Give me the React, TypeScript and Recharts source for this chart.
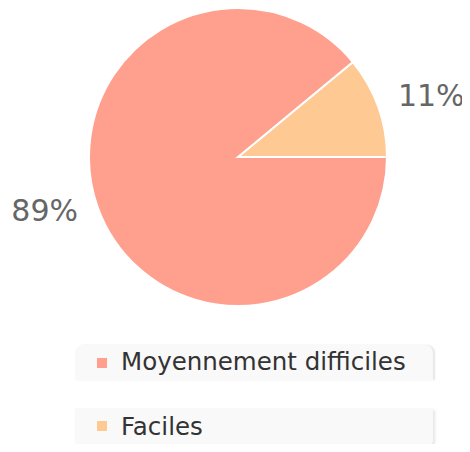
import React from 'react';
import { PieChart, Pie, Cell, Legend } from 'recharts';

const sliceNames = ['Faciles', 'Moyennement difficiles'];
const sliceValues = [11, 89];
const sliceColors = ['#FFC994', '#FFA08E'];
const legendOrder = ['Moyennement difficiles', 'Faciles'];

const data = sliceNames.map((name, i) => ({ name, value: sliceValues[i] }));

const RADIAN = Math.PI / 180;

const renderLabel = ({ cx, cy, midAngle, outerRadius, percent }: any) => {
  const r = outerRadius + 21;
  const x = cx + r * Math.cos(-midAngle * RADIAN);
  const y = cy + r * Math.sin(-midAngle * RADIAN);
  const right = x > cx;
  return (
    <text
      x={x}
      y={y - 4}
      textAnchor={right ? 'start' : 'end'}
      dominantBaseline="central"
      fill="#666"
      fontSize={30}
      fontFamily="DejaVu Sans"
    >
      {`${Math.round(percent * 100)}%`}
    </text>
  );
};

const CustomLegend = () => {
  return (
    <div style={{ position: 'relative', width: 358, height: 103, fontFamily: 'DejaVu Sans' }}>
      {legendOrder.map((name, index) => {
        const color = sliceColors[sliceNames.indexOf(name)];
        const first = index === 0;
        return (
          <div
            key={name}
            style={{
              position: 'absolute',
              left: 0,
              top: first ? 0 : 63,
              width: 358,
              height: first ? 35 : 40,
              background: '#f9f9f9',
              borderRadius: first ? '8px 8px 0 0' : '0 0 8px 8px',
              boxShadow: first ? '2px 0 2px rgba(0,0,0,0.1)' : '2px 2px 3px rgba(0,0,0,0.1)',
            }}
          >
            <span
              style={{
                position: 'absolute',
                left: 22,
                top: 13,
                width: 10,
                height: 10,
                background: color,
              }}
            />
            <span
              style={{
                position: 'absolute',
                left: 46,
                top: first ? 3 : 5,
                fontSize: 24.5,
                lineHeight: '28px',
                color: '#333',
                whiteSpace: 'nowrap',
              }}
            >
              {name}
            </span>
          </div>
        );
      })}
    </div>
  );
};

export default function App() {
  return (
    <div style={{ position: 'relative', width: 470, height: 452, margin: -8, background: '#fff' }}>
      <PieChart width={470} height={452} margin={{ top: 0, right: 0, bottom: 0, left: 0 }}>
        <Pie
          data={data}
          dataKey="value"
          nameKey="name"
          cx={238}
          cy={157}
          outerRadius={149}
          startAngle={0}
          endAngle={360}
          stroke="#fff"
          strokeWidth={2}
          label={renderLabel}
          labelLine={false}
          isAnimationActive={false}
        >
          {data.map((d, i) => (
            <Cell key={d.name} fill={sliceColors[i]} />
          ))}
        </Pie>
        <Legend
          content={<CustomLegend />}
          wrapperStyle={{ position: 'absolute', left: 75, top: 345, width: 358, height: 103 }}
        />
      </PieChart>
    </div>
  );
}
